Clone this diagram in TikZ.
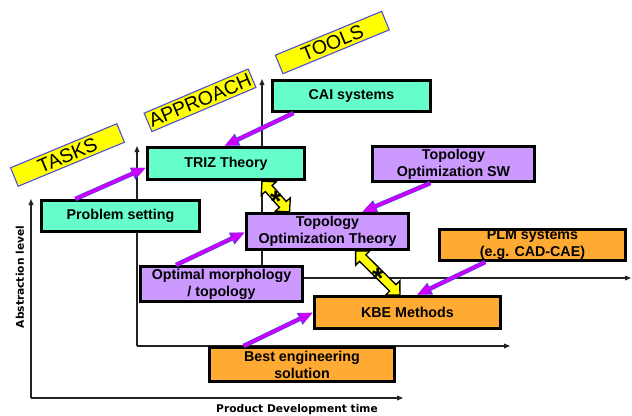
\documentclass[tikz,border=0pt]{standalone}
\usepackage{fontspec}
\setmainfont{Liberation Sans}
\newfontfamily\verd{DejaVu Sans}
\usetikzlibrary{calc,arrows.meta}
\definecolor{cyanb}{HTML}{66FFCC}
\definecolor{purpb}{HTML}{CC99FF}
\definecolor{orangb}{HTML}{FFAA33}
\definecolor{yelb}{HTML}{FFFF00}
\definecolor{bluee}{HTML}{4A4AD8}
\definecolor{magc}{HTML}{CC00FF}
\definecolor{axisc}{HTML}{222222}
\begin{document}
\begin{tikzpicture}[x=0.75pt,y=-0.75pt,
  sz/.style 2 args={minimum width={#1*0.75pt}, minimum height={#2*0.75pt}},
  box/.style={draw=black, line width=2pt, inner sep=0pt, align=center,
    font=\bfseries\fontsize{10.7}{12.75}\selectfont},
  cbox/.style={box, fill=cyanb},
  pbox/.style={box, fill=purpb},
  obox/.style={box, fill=orangb},
  ylab/.style={draw=bluee, fill=yelb, line width=0.8pt, inner sep=0pt,
    font=\fontsize{14.6}{16}\selectfont},
  axis/.style={draw=axisc, line width=0.8pt, -{Triangle[length=4.5pt,width=3.6pt]}},
  magarrow/.style={draw=magc, line width=2.4pt, -{Triangle[length=10pt,width=7.5pt]},
    preaction={draw=bluee, line width=3.4pt, -{Triangle[length=11pt,width=9pt]}}},
  dbl/.style={draw=black, fill=yelb, line width=1pt, line join=miter},
  star/.style={inner sep=0pt, font=\bfseries\fontsize{22}{22}\selectfont},
  axlab/.style={font=\verd\bfseries\fontsize{8}{9}\selectfont, inner sep=0pt}
]
\useasboundingbox (0,0) rectangle (632,415);

% axes
\coordinate (o1) at (31,398);
\coordinate (o2) at (137,346);
\coordinate (o3) at (262,278);
\draw[axis] (o1) -- (31,199);
\draw[axis] (o1) -- (403,398);
\draw[axis] (o2) -- (137,146);
\draw[axis] (o2) -- (510,346);
\draw[axis] (o3) -- (262,79);
\draw[axis] (o3) -- (631,278);

\node[axlab, rotate=90] (abs) at (20,277) {Abstraction level};
\node[axlab] (pdt) at (297,409.5) {Product Development time};

% yellow labels
\node[ylab, sz={115}{20}, rotate=22.5] (tasks) at (67.5,155) {TASKS};
\node[ylab, sz={113}{20}, rotate=23] (appr) at (200,100.3) {APPROACH};
\node[ylab, sz={115}{20}, rotate=22.4] (tools) at (332.3,42.5) {TOOLS};

% boxes
\node[cbox, sz={158.5}{31.5}] (ps) at (120.5,216) {Problem setting};
\node[cbox, sz={157.5}{32.5}] (triz) at (226,163.5) {TRIZ Theory};
\node[cbox, sz={158.5}{31.5}] (cai) at (351.5,96) {CAI systems};
\node[pbox, sz={162.5}{35.5}] (tosw) at (453.5,164) {Topology\\Optimization SW};
\node[pbox, sz={162.5}{36.5}] (tot) at (327.5,231.5) {Topology\\Optimization Theory};
\node[pbox, sz={162.5}{35.5}] (om) at (221.5,284) {Optimal morphology\\/ topology};
\node[obox, sz={186.5}{31.5}] (plm) at (532.5,245) {PLM systems\\(e.g. CAD-CAE)};
\node[obox, sz={186.5}{32.5}] (kbe) at (407.5,312.5) {KBE Methods};
\node[obox, sz={185.5}{34.5}] (best) at (302,364.5) {Best engineering\\solution};

% magenta arrows
\draw[magarrow] ($(ps.north west)!0.22!(ps.north east)$) -- ($(triz.north west)!0.62!(triz.south west)$);
\draw[magarrow] ($(cai.south west)!0.14!(cai.south east)$) -- ($(triz.north west)!0.49!(triz.north east)$);
\draw[magarrow] ($(tosw.south west)!0.36!(tosw.south east)$) -- ($(tot.north west)!0.71!(tot.north east)$);
\draw[magarrow] ($(om.north west)!0.225!(om.north east)$) -- ($(tot.north west)!0.52!(tot.south west)$);
\draw[magarrow] ($(best.north west)!0.19!(best.north east)$) -- ($(kbe.north west)!0.5!(kbe.south west)$);
\draw[magarrow] ($(plm.south west)!0.25!(plm.south east)$) -- ($(kbe.north west)!0.55!(kbe.north east)$);

% yellow double arrows
\coordinate (y1a) at ($(triz.south west)!0.725!(triz.south east)$);
\coordinate (y1b) at ($(tot.north west)!0.27!(tot.north east)$);
\coordinate (y2a) at ($(tot.south west)!0.67!(tot.south east)$);
\coordinate (y2b) at ($(kbe.north west)!0.46!(kbe.north east)$);
\foreach \a/\b/\n in {y1a/y1b/d1, y2a/y2b/d2}{
  \coordinate (P) at ($(\a)!7.5pt!(\b)$);
  \coordinate (Q) at ($(\b)!7.5pt!(\a)$);
  \draw[dbl] (\a) -- ($(P)!7.5pt!90:(\b)$) -- ($(P)!3.4pt!90:(\b)$)
    -- ($(Q)!3.4pt!-90:(\a)$) -- ($(Q)!7.5pt!-90:(\a)$) -- (\b)
    -- ($(Q)!7.5pt!90:(\a)$) -- ($(Q)!3.4pt!90:(\a)$)
    -- ($(P)!3.4pt!-90:(\b)$) -- ($(P)!7.5pt!-90:(\b)$) -- cycle;
  \node[star] (\n) at ($(\a)!0.5!(\b)+(0,5)$) {*};
}
\end{tikzpicture}
\end{document}
